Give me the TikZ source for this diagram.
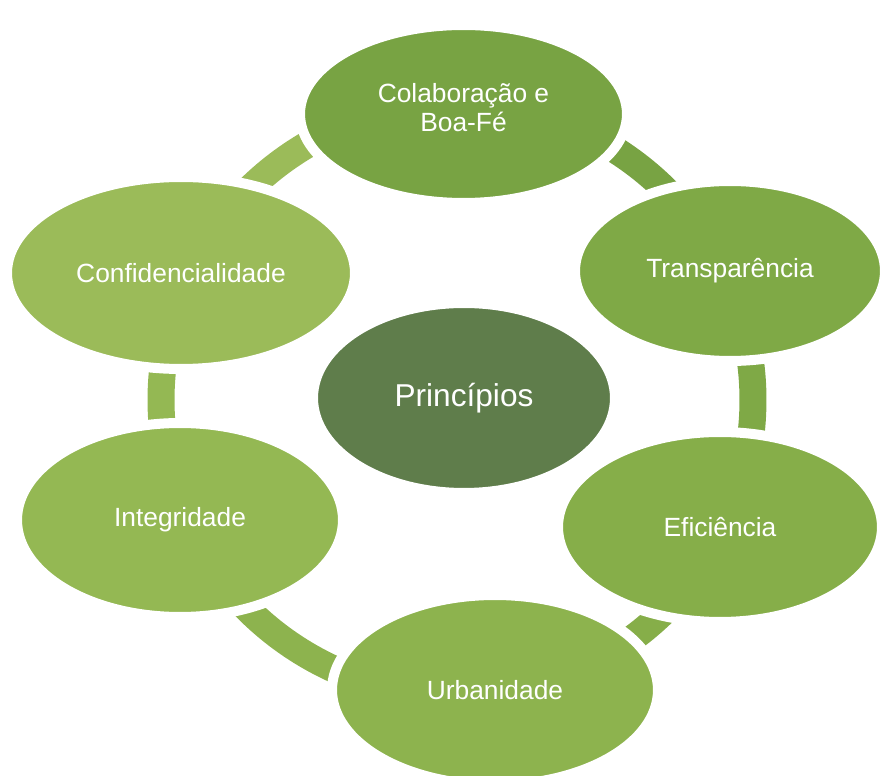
\documentclass[tikz,border=0pt]{standalone}
\usepackage{fontspec}
\setmainfont{Liberation Sans}
\usetikzlibrary{shapes.geometric}

\definecolor{gcenter}{HTML}{5F7D4B}
\definecolor{gone}{HTML}{78A343}
\definecolor{gtwo}{HTML}{7FA946}
\definecolor{gthree}{HTML}{86AE49}
\definecolor{gfour}{HTML}{8DB34E}
\definecolor{gfive}{HTML}{94B853}
\definecolor{gsix}{HTML}{9BBB59}

\begin{document}
\begin{tikzpicture}[x=0.02cm, y=-0.02cm,
    bubble/.style={ellipse, draw=white, line width=0.2cm, text=white,
      align=center, font=\fontsize{15}{16.5}\selectfont},
    ringseg/.style={line width=0.54cm}]

        \useasboundingbox (0,0) rectangle (883,776);

        % Ring behind the bubbles
        \coordinate (ring) at (457,400);
        \draw[ringseg, gone] (ring) ++(-88.8:296) arc[start angle=-88.8, end angle=-25.5, radius=296];
        \draw[ringseg, gtwo] (ring) ++(-25.5:296) arc[start angle=-25.5, end angle=25.8, radius=296];
        \draw[ringseg, gthree] (ring) ++(25.8:296) arc[start angle=25.8, end angle=82.5, radius=296];
        \draw[ringseg, gfour] (ring) ++(82.5:296) arc[start angle=82.5, end angle=156.6, radius=296];
        \draw[ringseg, gfive] (ring) ++(156.6:296) arc[start angle=156.6, end angle=204.7, radius=296];
        \draw[ringseg, gsix] (ring) ++(204.7:296) arc[start angle=204.7, end angle=271.2, radius=296];

        % Outer bubbles
        \node[bubble, fill=gone, minimum width=6.54cm, minimum height=3.56cm, text depth=8pt] (colab) at (463.5,114) {Colaboração e\\Boa-Fé};
        \node[bubble, fill=gtwo, minimum width=6.2cm, minimum height=3.6cm] (transp) at (730,271) {Transparência};
        \node[bubble, fill=gthree, minimum width=6.48cm, minimum height=3.8cm] (efic) at (720,527) {Eficiência};
        \node[bubble, fill=gfour, minimum width=6.52cm, minimum height=3.8cm] (urban) at (495,690) {Urbanidade};
        \node[bubble, fill=gfive, minimum width=6.52cm, minimum height=3.88cm] (integ) at (180,520) {Integridade};
        \node[bubble, fill=gsix, minimum width=6.96cm, minimum height=3.84cm] (conf) at (181,273) {Confidencialidade};

        % Centre
        \node[bubble, fill=gcenter, minimum width=6.04cm, minimum height=3.8cm,
          font=\fontsize{18}{21}\selectfont] (princ) at (464,398) {Princípios};

\end{tikzpicture}
\end{document}
